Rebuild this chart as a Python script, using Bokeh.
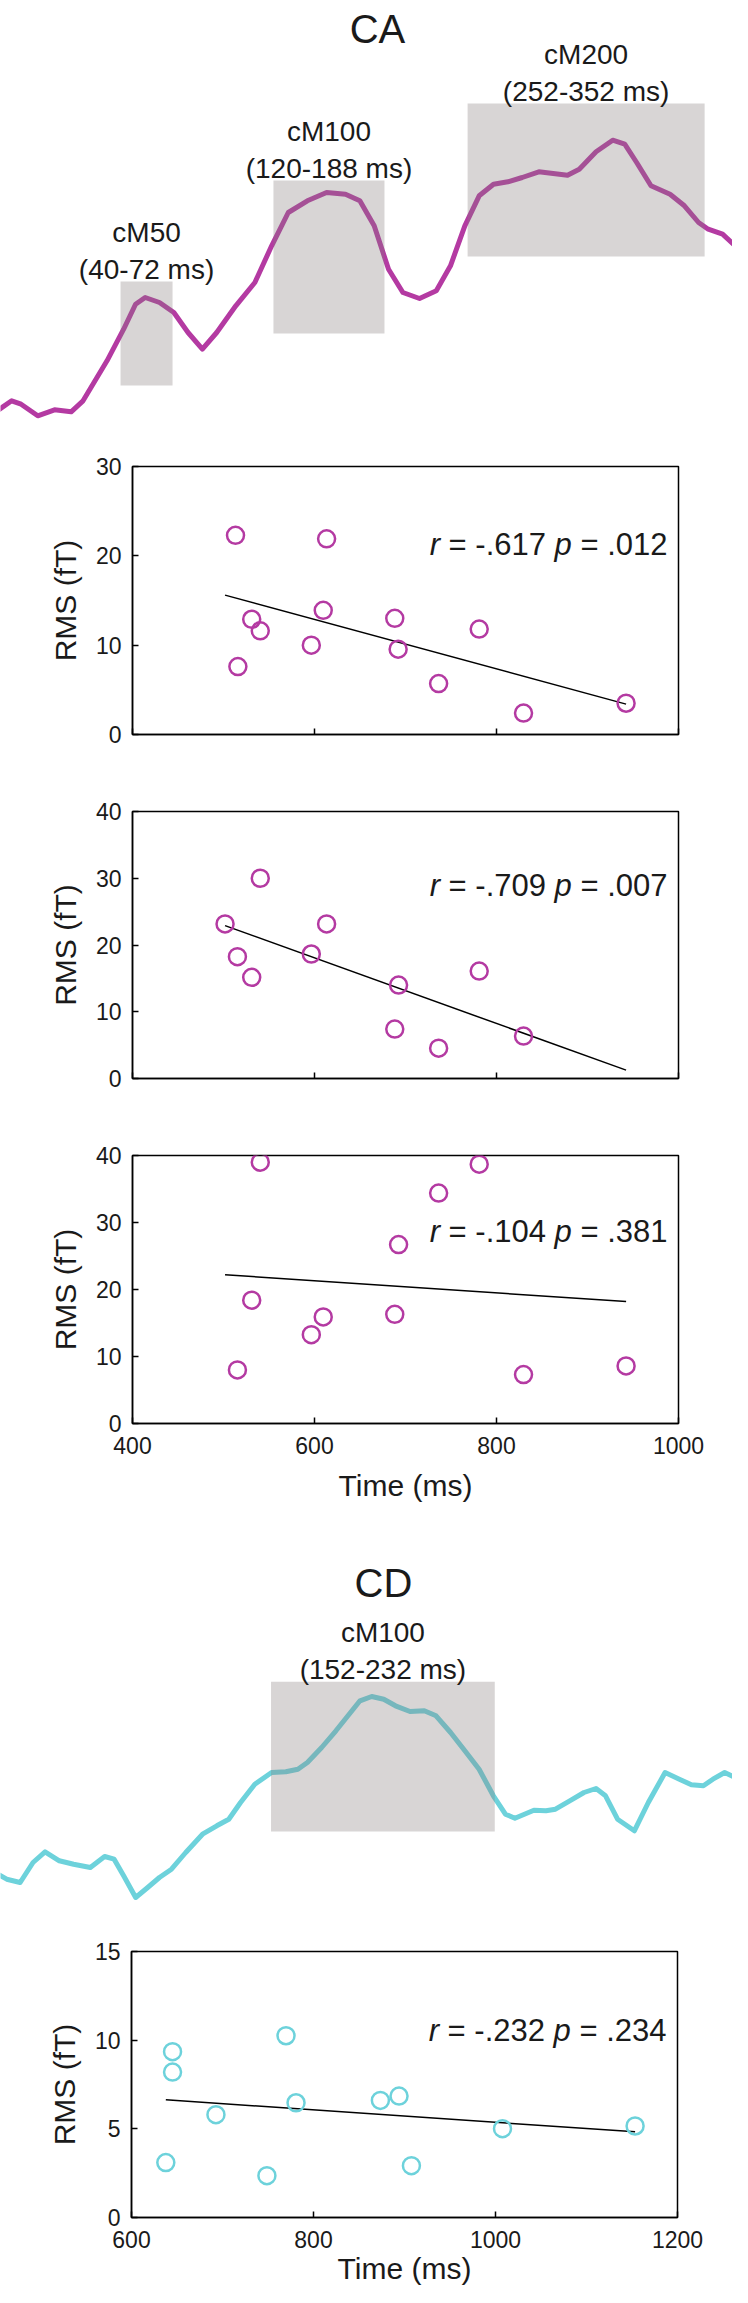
from bokeh.plotting import figure
from bokeh.models import Range1d, FixedTicker, Label
from bokeh.core.properties import value
from bokeh.embed import file_html
from bokeh.resources import INLINE

# ---------------- data ----------------
# CA grand-average trace (time in ms, amplitude in fT)
ca_time = [-38.7, -26.9, -21.1, -10.9, -0.6, 9.6, 16.9, 31.6, 41.8, 49.1, 55.0, 63.8,
           72.6, 81.3, 90.1, 98.9, 110.6, 122.3, 132.6, 142.8, 154.5, 166.3, 177.9,
           186.7, 195.5, 204.3, 213.1, 223.3, 233.6, 242.3, 251.1, 259.9, 268.7, 277.5,
           286.3, 296.5, 305.3, 314.1, 321.3, 331.6, 341.8, 349.2, 356.5, 365.3, 377.0,
           385.8, 394.5, 400.4, 409.2, 418.0]
ca_amp = [0.83, 2.17, 1.83, 0.67, 1.27, 1.07, 2.17, 6.17, 9.33, 11.83, 12.5, 12.0,
          11.0, 9.0, 7.33, 9.0, 11.67, 14.0, 17.67, 21.0, 22.17, 23.0, 22.83,
          22.17, 19.67, 15.33, 13.0, 12.4, 13.17, 15.67, 19.67, 22.67, 23.83, 24.07,
          24.5, 25.07, 24.9, 24.73, 25.33, 27.07, 28.23, 27.83, 26.0, 23.67, 22.83,
          21.67, 20.0, 19.33, 18.83, 17.5]
ca_windows = ["cM50", "cM100", "cM200"]
ca_window_text = ["(40-72 ms)", "(120-188 ms)", "(252-352 ms)"]
ca_window_start = [39.9, 133.7, 252.8]
ca_window_end = [71.8, 201.8, 398.2]
ca_window_low = [3.7, 8.9, 16.6]
ca_window_high = [14.1, 24.2, 31.9]

# CD grand-average trace
cd_time = [53.3, 57.5, 62.3, 66.9, 71.2, 76.3, 81.4, 87.4, 92.5, 95.9, 99.3, 103.6,
           107.9, 112.1, 116.4, 121.5, 127.5, 132.6, 136.9, 141.1, 146.2, 152.2, 157.3,
           161.6, 165.0, 170.1, 175.2, 179.5, 183.8, 188.0, 192.3, 196.5, 201.7, 206.8,
           211.0, 216.2, 221.3, 226.4, 231.5, 235.8, 239.2, 242.6, 246.0, 250.3, 253.7,
           258.8, 263.9, 268.2, 271.6, 275.9, 281.9, 286.9, 292.9, 298.0, 302.3, 306.6,
           310.0, 314.2, 318.5]
cd_amp = [5.0, 4.33, 4.0, 6.0, 7.07, 6.17, 5.83, 5.5, 6.6, 6.33, 4.67, 2.5,
          3.5, 4.5, 5.33, 7.0, 8.83, 9.67, 10.33, 12.0, 13.83, 15.0, 15.07,
          15.33, 16.0, 17.5, 19.17, 20.67, 22.17, 22.6, 22.33, 21.67, 21.1, 21.17,
          20.67, 19.0, 17.17, 15.33, 12.67, 10.83, 10.43, 10.83, 11.23, 11.17, 11.33,
          12.17, 13.0, 13.4, 12.67, 10.33, 9.17, 12.0, 15.0, 14.33, 13.77, 13.67,
          14.33, 15.0, 14.43]
cd_windows = ["cM100"]
cd_window_text = ["(152-232 ms)"]
cd_window_start = [152.0]
cd_window_end = [232.0]
cd_window_low = [9.1]
cd_window_high = [24.07]

# CA scatter: latency (ms) vs RMS (fT)
cm50_time = [513.2, 613.3, 531.0, 540.4, 515.8, 596.5, 609.6, 688.2, 691.9, 781.0, 736.4, 829.7, 942.4]
cm50_rms = [22.3, 21.9, 12.9, 11.6, 7.6, 10.0, 13.9, 13.0, 9.55, 11.8, 5.7, 2.4, 3.5]
cm50_fit_time = [501.7, 942.4]
cm50_fit_rms = [15.6, 3.4]
cm50_r, cm50_p = "-.617", ".012"

cm100_time = [540.4, 501.7, 613.3, 515.3, 531.0, 596.5, 692.4, 688.2, 736.4, 781.0, 829.7]
cm100_rms = [30.0, 23.15, 23.15, 18.25, 15.15, 18.65, 14.0, 7.4, 4.55, 16.1, 6.35]
cm100_fit_time = [501.7, 942.4]
cm100_fit_rms = [22.9, 1.25]
cm100_r, cm100_p = "-.709", ".007"

cm200_time = [540.4, 781.0, 736.4, 692.4, 531.0, 609.6, 596.5, 688.2, 515.3, 829.7, 942.4]
cm200_rms = [39.0, 38.7, 34.4, 26.7, 18.4, 15.9, 13.25, 16.3, 8.0, 7.3, 8.6]
cm200_fit_time = [501.7, 942.4]
cm200_fit_rms = [22.2, 18.2]
cm200_r, cm200_p = "-.104", ".381"

# CD scatter
cdm100_time = [637.7, 645.1, 645.1, 692.8, 748.8, 769.8, 780.8, 873.5, 894.0, 907.6, 1007.7, 1153.4]
cdm100_rms = [3.1, 9.35, 8.2, 5.8, 2.36, 10.25, 6.47, 6.6, 6.85, 2.92, 5.01, 5.16]
cdm100_fit_time = [637.7, 1153.4]
cdm100_fit_rms = [6.64, 4.83]
cdm100_r, cdm100_p = "-.232", ".234"

ca_xticks = [400, 600, 800, 1000]
cd_xticks = [600, 800, 1000, 1200]

# ---------------- style ----------------
FONT = "Liberation Sans"
W = 732
TXT = "#1a1a1a"
MAGENTA = "#b43aa2"
CYAN = "#6dd2db"
BOX = "#8a8080"

# Arial/Liberation advance widths (em) for the stats strings
ADV = {"0": .556, "1": .556, "2": .556, "3": .556, "4": .556, "5": .556, "6": .556,
       "7": .556, "8": .556, "9": .556, ".": .278, " ": .278, "=": .584, "-": .333,
       "r": .333, "p": .556}


def adv(s):
    return sum(ADV.get(c, .556) for c in s)


def trace_panel(height, xr, yr, t, a, color, names, texts, ws, we, wl, wh, title, title_xy):
    p = figure(width=W, height=height, x_range=Range1d(*xr), y_range=Range1d(*yr),
               output_backend="svg", toolbar_location=None,
               x_axis_location=None, y_axis_location=None, min_border=0)
    p.grid.visible = False
    p.outline_line_color = None
    p.line(t, a, line_color=color, line_width=5, line_join="round", line_cap="round")
    p.quad(left=ws, right=we, bottom=wl, top=wh, fill_color=BOX, fill_alpha=0.33,
           line_color=None)
    cx = [(s + e) / 2 for s, e in zip(ws, we)]
    p.text(x=cx, y=wh, text=texts, y_offset=-12, text_align="center",
           text_baseline="alphabetic", text_font=value(FONT), text_font_size="28px",
           text_color=TXT)
    p.text(x=cx, y=wh, text=names, y_offset=-49, text_align="center",
           text_baseline="alphabetic", text_font=value(FONT), text_font_size="28px",
           text_color=TXT)
    p.add_layout(Label(x=title_xy[0], y=title_xy[1], text=title, text_align="center",
                       text_baseline="alphabetic", text_font=FONT,
                       text_font_size="40px", text_color=TXT))
    return p


def scatter_panel(height, b_top, b_bottom, b_left, b_right, xr, yr, xticks, yticks,
                  title, xs, ys, fx, fy, r_val, p_val, stat_y, color, show_x,
                  xlab_standoff=12):
    p = figure(width=W, height=height, x_range=Range1d(*xr), y_range=Range1d(*yr),
               output_backend="svg", toolbar_location=None,
               min_border_top=b_top, min_border_bottom=b_bottom,
               min_border_left=b_left, min_border_right=b_right)
    p.grid.visible = False
    p.outline_line_color = "black"
    p.outline_line_width = 1.5
    p.outline_line_alpha = 1.0
    for ax in (p.xaxis[0], p.yaxis[0]):
        ax.major_tick_in = 6
        ax.major_tick_out = 0
        ax.minor_tick_line_color = None
        ax.axis_line_color = "black"
        ax.axis_line_width = 1.5
        ax.major_tick_line_width = 1.5
        ax.major_tick_line_color = "black"
        ax.major_label_text_font = FONT
        ax.major_label_text_font_size = "23px"
        ax.major_label_text_color = TXT
        ax.axis_label_text_font = FONT
        ax.axis_label_text_font_size = "30px"
        ax.axis_label_text_font_style = "normal"
        ax.axis_label_text_color = TXT
    p.xaxis.ticker = FixedTicker(ticks=xticks)
    p.yaxis.ticker = FixedTicker(ticks=yticks)
    p.yaxis.major_label_standoff = 11
    p.yaxis.axis_label = "RMS (fT)"
    p.yaxis.axis_label_standoff = 11
    if show_x:
        p.xaxis.major_label_standoff = 13
        p.xaxis.axis_label = "Time (ms)"
        p.xaxis.axis_label_standoff = xlab_standoff
    else:
        p.xaxis.major_label_text_font_size = "1px"
        p.xaxis.major_label_text_color = None
        p.xaxis.major_label_standoff = 0

    p.line(fx, fy, line_color="black", line_width=1.5)
    p.scatter(xs, ys, marker="circle", size=17, fill_color=None, line_color=color,
              line_width=2.5)

    # title above the frame
    if title:
        p.add_layout(Label(x=(xr[0] + xr[1]) / 2, y=yr[1], y_offset=11, text=title,
                           text_align="center", text_baseline="alphabetic",
                           text_font=FONT, text_font_size="28px", text_color=TXT))
    # statistics, right aligned
    fs = 31
    right = -11
    parts = [("r", "italic"), ("= " + r_val, "normal"), ("p", "italic"),
             ("= " + p_val, "normal")]
    widths = [adv(s) * fs for s, _ in parts]
    gap = ADV[" "] * fs
    pos = right
    for i in range(len(parts) - 1, -1, -1):
        s, style = parts[i]
        p.add_layout(Label(x=xr[1], y=stat_y, x_offset=pos, text=s, text_align="right",
                           text_baseline="alphabetic", text_font=FONT,
                           text_font_size=f"{fs}px", text_font_style=style,
                           text_color=TXT))
        pos -= widths[i] + gap
    return p


pA = trace_panel(432, (-33.74, 415.3), (-1.0, 42.2), ca_time, ca_amp, MAGENTA,
                 ca_windows, ca_window_text, ca_window_start, ca_window_end,
                 ca_window_low, ca_window_high, "CA", (197.5, 39.4))
pB = scatter_panel(330, 34, 28, 132, 54, (400, 1000), (0, 30), ca_xticks, [0, 10, 20, 30],
                   "cM50", cm50_time, cm50_rms, cm50_fit_time, cm50_fit_rms,
                   cm50_r, cm50_p, 21.3, MAGENTA, False)
pC = scatter_panel(344, 49, 28, 132, 54, (400, 1000), (0, 40), ca_xticks,
                   [0, 10, 20, 30, 40], "cM100", cm100_time, cm100_rms, cm100_fit_time,
                   cm100_fit_rms, cm100_r, cm100_p, 28.9, MAGENTA, False)
pD = scatter_panel(416, 49, 99, 132, 54, (400, 1000), (0, 40), ca_xticks,
                   [0, 10, 20, 30, 40], "cM200", cm200_time, cm200_rms, cm200_fit_time,
                   cm200_fit_rms, cm200_r, cm200_p, 28.6, MAGENTA, True, 12)
pE = trace_panel(400, (55.27, 317.0), (0.0, 40.0), cd_time, cd_amp, CYAN,
                 cd_windows, cd_window_text, cd_window_start, cd_window_end,
                 cd_window_low, cd_window_high, "CD", (192.2, 34.0))
pF = scatter_panel(365, 29, 70, 131, 55, (600, 1200), (0, 15), cd_xticks, [0, 5, 10, 15],
                   "", cdm100_time, cdm100_rms, cdm100_fit_time, cdm100_fit_rms,
                   cdm100_r, cdm100_p, 10.57, CYAN, True, 1)

# separate roots so that Bokeh does not align the frames of the trace panels
# with the frames of the scatter panels
open("out.html", "w").write(file_html([pA, pB, pC, pD, pE, pF], INLINE))
